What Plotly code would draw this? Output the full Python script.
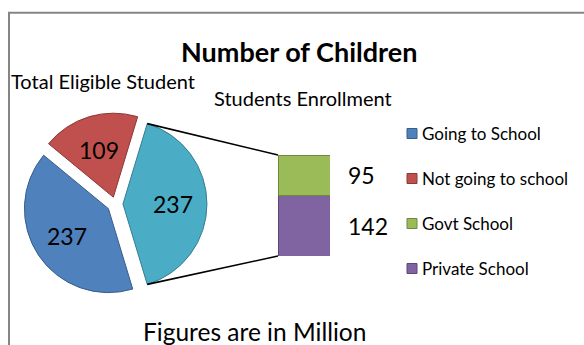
import math
import plotly.graph_objects as go

# ---------------- data ----------------
pie_labels = ["Going to School", "Not going to school"]
pie_values = [237, 109]
bar_labels = ["Govt School", "Private School"]
bar_values = [95, 142]
title_text = "Number of Children"
pie_title = "Total Eligible Student"
bar_title = "Students Enrollment"
footer = "Figures are in Million"

# ---------------- styles ----------------
W, H = 584, 345
FONT = "Lato"
pie_colors = ["#4F81BD", "#C0504D"]
pie_lines = ["#385D8A", "#8C3836"]
other_color, other_line = "#4BACC6", "#357D91"
bar_colors = ["#9BBB59", "#8064A2"]
bar_lines = ["#71893F", "#5C4776"]

other_value = sum(bar_values)
slice_values = [other_value] + pie_values
slice_colors = [other_color] + pie_colors
slice_lines = [other_line] + pie_lines
pulls = [0.09, 0.1, 0.085]
total = sum(slice_values)
other_deg = other_value / total * 360
rotation = 90 - other_deg / 2

# pie placement (paper)
pie_dx = [0.0394, 0.3558]
pie_dy = [0.1409, 0.6765]

# bar placement (paper)
bar_dx = [278 / W, 330 / W]
bar_dy = [1 - 256 / H, 1 - 155 / H]

fig = go.Figure()
fig.add_trace(go.Pie(
    values=slice_values,
    labels=["Other"] + pie_labels,
    sort=False, direction="clockwise", rotation=rotation,
    pull=pulls,
    marker=dict(colors=slice_colors, line=dict(color=slice_lines, width=1)),
    textinfo="none", hoverinfo="label+value",
    domain=dict(x=pie_dx, y=pie_dy),
    showlegend=False,
))

# stacked bar: bottom is last category
for lab, val, col, lc in reversed(list(zip(bar_labels, bar_values, bar_colors, bar_lines))):
    fig.add_trace(go.Bar(
        x=[0], y=[val], name=lab, width=1,
        marker=dict(color=col, line=dict(color=lc, width=1)),
        showlegend=False, hoverinfo="name+y",
    ))

# ---- geometry of pie in pixels ----
boxW = W * (pie_dx[1] - pie_dx[0])
boxH = H * (pie_dy[1] - pie_dy[0])
r = min(boxW, boxH) / 2 / (1 + max(pulls))
cx = W * (pie_dx[0] + pie_dx[1]) / 2
cy = H * (1 - pie_dy[0]) - boxH / 2


def px2paper(x, y):
    return x / W, 1 - y / H


def note(x, y, text, size, xanchor="center", yref="paper", bold=False):
    return dict(x=x, y=y, xref="paper", yref=yref,
                text=("<b>%s</b>" % text) if bold else text,
                xanchor=xanchor, yanchor="middle", showarrow=False,
                font=dict(family=FONT, size=size, color="black"))


annotations = []
angle = rotation
apexes = []
for v, p in zip(slice_values, pulls):
    span = v / total * 360
    mid = math.radians(angle + span / 2)
    ax = cx + p * r * math.sin(mid)
    ay = cy - p * r * math.cos(mid)
    apexes.append((ax, ay, angle, span))
    lx = ax + 0.59 * r * math.sin(mid)
    ly = ay - 0.59 * r * math.cos(mid)
    px, py = px2paper(lx, ly)
    annotations.append(note(px, py, str(v), 23))
    angle += span

# connectors from the "other" slice tips to bar corners
ax, ay, a0, span = apexes[0]
tips = []
for a in (a0, a0 + span):
    t = math.radians(a)
    tips.append((ax + r * math.sin(t), ay - r * math.cos(t)))
shapes = []
corners = [(bar_dx[0], bar_dy[1]), (bar_dx[0], bar_dy[0])]
for (tx, ty), (bx, by) in zip(tips, corners):
    px, py = px2paper(tx, ty)
    shapes.append(dict(type="line", xref="paper", yref="paper", x0=px, y0=py, x1=bx, y1=by,
                       line=dict(color="black", width=1.6)))

# bar value labels
cum = 0
bar_mids = []
for v in reversed(bar_values):
    bar_mids.append(cum + v / 2)
    cum += v
bar_mids = list(reversed(bar_mids))
for v, m in zip(bar_values, bar_mids):
    annotations.append(note(346 / W, m, str(v), 23, xanchor="left", yref="y"))

# legend (manual)
leg_labels = pie_labels + bar_labels
leg_colors = pie_colors + bar_colors
leg_lines = pie_lines + bar_lines
for i, (lab, col, lc) in enumerate(zip(leg_labels, leg_colors, leg_lines)):
    yc = 133.5 + 45 * i
    shapes.append(dict(type="rect", xref="paper", yref="paper",
                       x0=407 / W, x1=417 / W, y0=1 - (yc + 5) / H, y1=1 - (yc - 5) / H,
                       fillcolor=col, line=dict(color=lc, width=1)))
    annotations.append(note(420 / W, 1 - yc / H, lab, 17, xanchor="left"))

# texts
annotations.append(note(299 / W, 1 - 52 / H, title_text, 27, bold=True))
annotations.append(note(9 / W, 1 - 81 / H, pie_title, 20, xanchor="left"))
annotations.append(note(212 / W, 1 - 98 / H, bar_title, 20, xanchor="left"))
annotations.append(note(254 / W, 1 - 331 / H, footer, 24.5))

# chart border
shapes.append(dict(type="rect", xref="paper", yref="paper", x0=9 / W, x1=1.05, y0=-0.05, y1=1 - 12.75 / H,
                   line=dict(color="#858585", width=2), fillcolor="rgba(0,0,0,0)"))

fig.update_layout(
    width=W, height=H, margin=dict(l=0, r=0, t=0, b=0),
    paper_bgcolor="white", plot_bgcolor="rgba(0,0,0,0)",
    barmode="stack",
    xaxis=dict(domain=bar_dx, range=[-0.5, 0.5], visible=False, fixedrange=True),
    yaxis=dict(domain=bar_dy, range=[0, other_value], visible=False, fixedrange=True),
    shapes=shapes, annotations=annotations,
    font=dict(family=FONT),
)

fig.write_html("out.html")
